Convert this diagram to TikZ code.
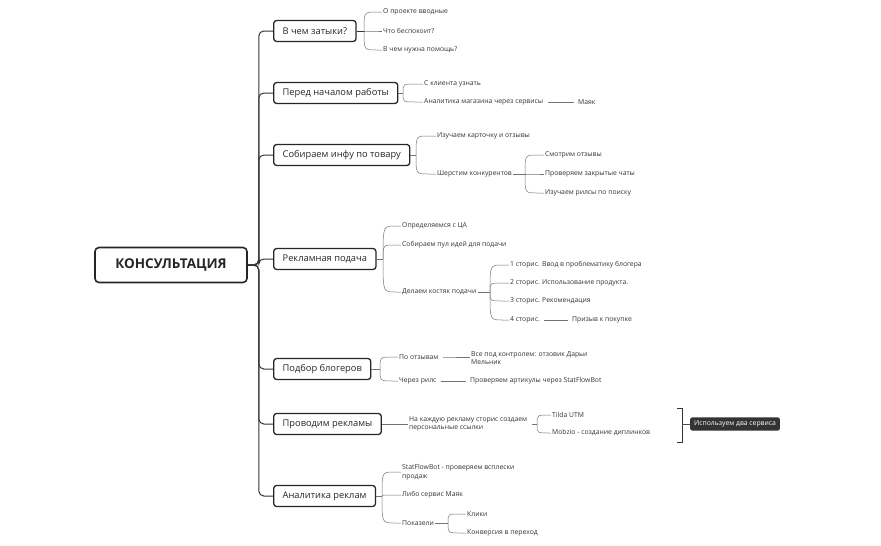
\documentclass[tikz,border=0pt]{standalone}
\usepackage{fontspec}
\setmainfont{Open Sans}
\usetikzlibrary{calc}
\begin{document}
\begin{tikzpicture}[x=1pt,y=-1pt,
  main/.style={draw=black!85,line width=1.3pt,rounded corners=3pt,minimum height=21pt,inner xsep=9pt,anchor=west,font=\fontsize{9.3}{11}\selectfont,text=black!85},
  root/.style={draw=black!85,line width=1.6pt,rounded corners=4pt,minimum height=35pt,minimum width=152pt,font=\fontsize{13.5}{15}\selectfont\bfseries,text=black!85},
  leaf/.style={anchor=west,inner sep=1pt,font=\fontsize{6.8}{8.5}\selectfont,text=black!80,align=left},
  ln/.style={draw=black!55,line width=0.5pt},
  mln/.style={draw=black!80,line width=1pt,rounded corners=5pt}]
\useasboundingbox (0,0) rectangle (881,546);
\newcommand\br[2]{\draw[ln] (#1) .. controls (#1 |- #2.west) .. ($(#1 |- #2.west)+(12,0)$) -- (#2.west);}
\node[root] (r) at (171,265) {КОНСУЛЬТАЦИЯ};
\node[main] (m1) at (273,31) {В чем затыки?};
\node[main] (m2) at (273,93) {Перед началом работы};
\node[main] (m3) at (273,155) {Собираем инфу по товару};
\node[main] (m4) at (273,259) {Рекламная подача};
\node[main] (m5) at (273,369) {Подбор блогеров};
\node[main] (m6) at (273,424) {Проводим рекламы};
\node[main] (m7) at (273,496) {Аналитика реклам};
\foreach \m in {m1,m2,m3,m4,m5,m6,m7} \draw[mln] (r.east) -- ++(11,0) |- (\m.west);
% 1
\node[leaf] (a1) at (382,12) {О проекте вводные};
\node[leaf] (a2) at (382,31) {Что беспокоит?};
\node[leaf] (a3) at (382,50) {В чем нужна помощь?};
\coordinate (f1) at (364,31);
\draw[mln] (m1.east) -- (f1);
\br{f1}{a1}\br{f1}{a2}\br{f1}{a3}
% 2
\node[leaf] (b1) at (423,84) {С клиента узнать};
\node[leaf] (b2) at (423,102) {Аналитика магазина через сервисы};
\node[leaf] (b3) at (577,102) {Маяк};
\coordinate (f2) at (403,93);
\draw[ln] (m2.east) -- (f2);
\br{f2}{b1}\br{f2}{b2}
\draw[ln] ([xshift=4pt]b2.east) -- ([xshift=-3pt]b3.west);
% 3
\node[leaf] (c1) at (436,136) {Изучаем карточку и отзывы};
\node[leaf] (c2) at (436,174) {Шерстим конкурентов};
\coordinate (f3) at (416,155);
\draw[ln] (m3.east) -- (f3);
\br{f3}{c1}\br{f3}{c2}
\node[leaf] (c3) at (544,155) {Смотрим отзывы};
\node[leaf] (c4) at (544,174) {Проверяем закрытые чаты};
\node[leaf] (c5) at (544,193) {Изучаем рилсы по поиску};
\coordinate (f4) at (525,174);
\draw[ln] (c2.east) -- (f4);
\br{f4}{c3}\br{f4}{c4}\br{f4}{c5}
% 4
\node[leaf] (d1) at (401,226) {Определяемся с ЦА};
\node[leaf] (d2) at (401,245) {Собираем пул идей для подачи};
\node[leaf] (d3) at (401,292) {Делаем костяк подачи};
\coordinate (f5) at (383,259);
\draw[ln] (m4.east) -- (f5);
\br{f5}{d1}\br{f5}{d2}\br{f5}{d3}
\node[leaf] (d4) at (509,265) {1 сторис. Ввод в проблематику блогера};
\node[leaf] (d5) at (509,283) {2 сторис. Использование продукта.};
\node[leaf] (d6) at (509,301) {3 сторис. Рекомендация};
\node[leaf] (d7) at (509,320) {4 сторис.};
\node[leaf] (d8) at (571,320) {Призыв к покупке};
\coordinate (f6) at (490,292);
\draw[ln] (d3.east) -- (f6);
\br{f6}{d4}\br{f6}{d5}\br{f6}{d6}\br{f6}{d7}
\draw[ln] ([xshift=3pt]d7.east) -- ([xshift=-3pt]d8.west);
% 5
\node[leaf] (e1) at (398,357) {По отзывам};
\node[leaf] (e2) at (398,381) {Через рилс};
\coordinate (f7) at (380,369);
\draw[ln] (m5.east) -- (f7);
\br{f7}{e1}\br{f7}{e2}
\node[leaf] (e3) at (470,358) {Все под контролем: отзовик Дарьи\\Мельник};
\node[leaf] (e4) at (469,381) {Проверяем артикулы через StatFlowBot};
\draw[ln] ([xshift=3pt]e1.east) -- (443,357) -- (e3.west|-0,357);
\draw[ln] ([xshift=3pt]e2.east) -- ([xshift=-3pt]e4.west);
% 6
\node[leaf] (g1) at (408,424) {На каждую рекламу сторис создаем\\персональные ссылки};
\draw[ln] (m6.east) -- (g1.west);
\node[leaf] (g2) at (551,415) {Tilda UTM};
\node[leaf] (g3) at (551,433) {Mobzio - создание диплинков};
\coordinate (f8) at (537,424);
\draw[ln] (g1.east) ++(4,0) -- (f8);
\br{f8}{g2}\br{f8}{g3}
\draw[black!80,line width=1pt] (677,408) -- (682,408) -- (682,442) -- (677,442);
\node[fill=black!80,text=white,rounded corners=2pt,inner xsep=4pt,minimum height=13pt,anchor=west,font=\fontsize{6.8}{8}\selectfont] (h) at (690,424) {Используем два сервиса};
\draw[ln,draw=black!70] (682,424) -- (h.west);
% 7
\node[leaf] (k1) at (401,472) {StatFlowBot - проверяем всплески\\продаж};
\node[leaf] (k2) at (401,495) {Либо сервис Маяк};
\node[leaf] (k3) at (401,523) {Показели};
\coordinate (f9) at (382,496);
\draw[ln] (m7.east) -- (f9);
\br{f9}{k1}\br{f9}{k2}\br{f9}{k3}
\node[leaf] (k4) at (466,514) {Клики};
\node[leaf] (k5) at (466,533) {Конверсия в переход};
\coordinate (f10) at (448,523);
\draw[ln] (k3.east) -- (f10);
\br{f10}{k4}\br{f10}{k5}
\end{tikzpicture}
\end{document}
